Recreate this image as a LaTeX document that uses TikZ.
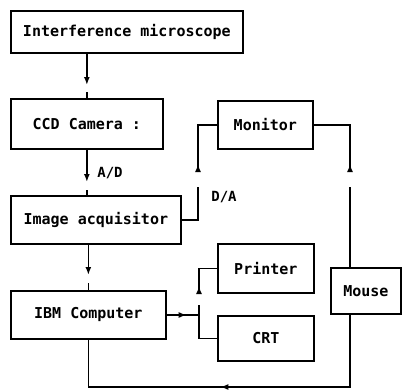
\documentclass[tikz,border=0pt]{standalone}
\usepackage{fontspec}
\newfontfamily\dmono{DejaVu Sans Mono}
\usetikzlibrary{arrows.meta,decorations.markings}
\begin{document}
\begin{tikzpicture}[x=1pt,y=-1pt,line width=1.7pt,
  box/.style={draw,rectangle,anchor=north west,inner sep=0pt,font=\dmono\bfseries\fontsize{15}{18}\selectfont},
  lbl/.style={inner sep=0pt,font=\dmono\bfseries\fontsize{14}{17}\selectfont},
  tipd/.style={-{Latex[length=8pt,width=6pt]}},
  mk/.style={decoration={markings,mark=at position #1 with {\arrow{Latex[length=8pt,width=6pt]}}},postaction={decorate}}]
\useasboundingbox (0,0) rectangle (404,391);
% boxes
\node[box,minimum width=232pt,minimum height=42pt] (mic) at (10,10) {Interference microscope};
\node[box,minimum width=152pt,minimum height=50pt] (ccd) at (10,98) {CCD Camera :};
\node[box,minimum width=170pt,minimum height=48pt] (img) at (10,195) {Image acquisitor};
\node[box,minimum width=155pt,minimum height=48pt] (ibm) at (10,290) {IBM Computer};
\node[box,minimum width=95pt,minimum height=48pt] (mon) at (217,100) {Monitor};
\node[box,minimum width=96pt,minimum height=49pt] (prn) at (217,243) {Printer};
\node[box,minimum width=96pt,minimum height=45pt] (crt) at (217,315) {CRT};
\node[box,minimum width=70pt,minimum height=46pt] (mouse) at (330,267) {Mouse};
% labels
\node[lbl] (ad) at (110,173) {A/D};
\node[lbl] (dalbl) at (224,197) {D/A};
% vertical chain
\draw[tipd,shorten >=13pt] (ccd.north |- mic.south) -- (ccd.north);
\draw (ccd.north) -- ++(0,-6);
\draw[tipd,shorten >=13pt] (ccd.south) -- (ccd.south |- img.north);
\draw (ccd.south |- img.north) -- ++(0,-5);
\draw[tipd,shorten >=15pt] (ibm.north |- img.south) -- (ibm.north);
\draw (ibm.north) -- ++(0,-7);
% D/A to monitor
\coordinate (da1) at (198,187);
\coordinate (da2) at (198,172);
\draw (img.east) -| (da1);
\draw[mk=8pt] (da2) |- (mon.west);
% mouse to monitor
\coordinate (m1) at (350,187);
\coordinate (m2) at (350,172);
\draw (m1) -- (m1 |- mouse.north);
\draw[mk=8pt] (m2) |- (mon.east);
% computer to printer / CRT
\coordinate (j) at (199,315);
\coordinate (p1) at (199,305);
\coordinate (p2) at (199,293);
\draw[mk=20pt] (ibm.east |- j) -- (j);
\draw (p1) |- (crt.west);
\draw[mk=7pt] (p2) |- (prn.west);
% mouse to computer
\coordinate (m3) at (350,387);
\draw[mk=202pt] (m3 |- mouse.south) -- (m3) -| (ibm.south);
\end{tikzpicture}
\end{document}
